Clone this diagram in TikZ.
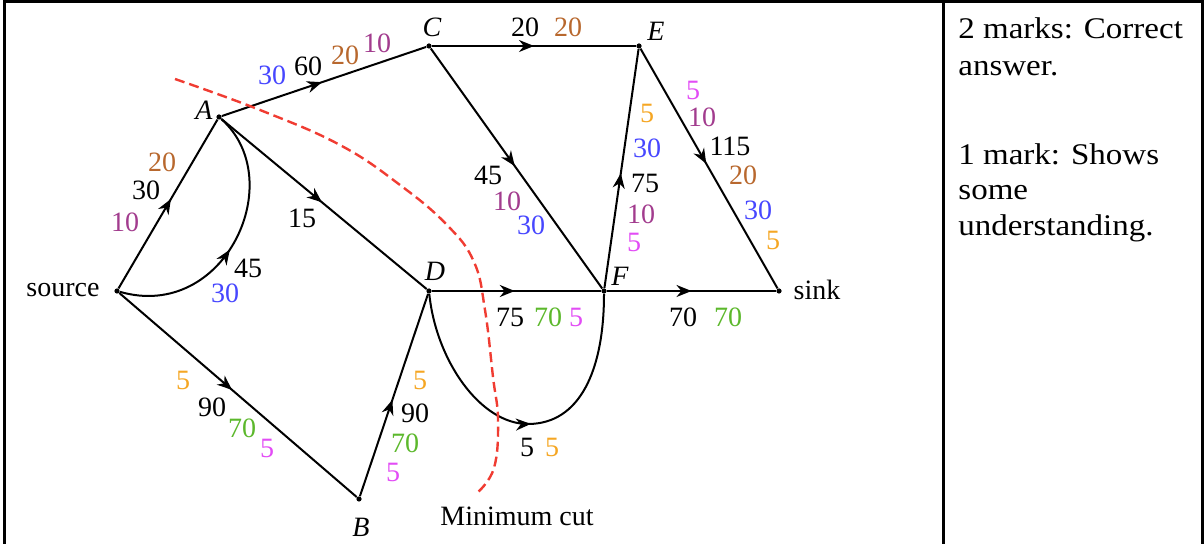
\documentclass[tikz,border=0pt]{standalone}
\usepackage{fontspec}
\setmainfont{Liberation Serif}
\newfontfamily\cellfont[FakeStretch=1.1]{Liberation Serif}
\usetikzlibrary{arrows.meta,decorations.markings}

\definecolor{fOrange}{HTML}{F5A623}
\definecolor{fBrown}{HTML}{B8682E}
\definecolor{fPurple}{HTML}{A23C8E}
\definecolor{fPink}{HTML}{E24CF5}
\definecolor{fBlue}{HTML}{4747FF}
\definecolor{fGreen}{HTML}{5CB82C}
\definecolor{fRed}{HTML}{F03C32}

\begin{document}
\begin{tikzpicture}[x=0.5pt,y=-0.5pt,
    vertex/.style={circle,fill=black,inner sep=0pt,minimum size=2.6pt},
    flow/.style={line width=1pt,postaction={decorate},
        decoration={markings,mark=at position #1 with {\arrow{Stealth[length=7.5pt,width=6pt]}}}},
    flow/.default=0.5,
    num/.style={inner sep=0pt,font=\fontsize{14}{16}\selectfont},
    vname/.style={inner sep=0pt,font=\fontsize{14}{16}\selectfont\itshape},
    cell/.style={inner sep=0pt,anchor=base west,font=\fontsize{15}{18}\cellfont}]
    \useasboundingbox (0,0) rectangle (1204,544);

    % table frame
    \draw[line width=1.5pt] (4,544) -- (4,2) -- (1202,2) -- (1202,544);
    \draw[line width=1.5pt] (943,2) -- (943,544);

    % vertices
    \node[vertex] (s) at (117,291) {};
    \node[vertex] (A) at (219,117) {};
    \node[vertex] (C) at (429,46) {};
    \node[vertex] (E) at (639,46) {};
    \node[vertex] (D) at (429,291) {};
    \node[vertex] (F) at (604,291) {};
    \node[vertex] (t) at (779,291) {};
    \node[vertex] (B) at (359,499) {};

    \node[vname] (sname) at (63,290) {\upshape source};
    \node[vname] (tname) at (817,290) {\upshape sink};
    \node[vname] (Aname) at (204,110) {A};
    \node[vname] (Cname) at (432,27) {C};
    \node[vname] (Ename) at (656,31) {E};
    \node[vname] (Dname) at (435,271) {D};
    \node[vname] (Fname) at (620,276) {F};
    \node[vname] (Bname) at (361,527) {B};

    % edges
    \draw[flow=0.53] (s) -- (A);
    \draw[flow=0.47] (s) .. controls (225,322) and (290,180) .. (A);
    \draw[flow=0.49] (A) -- (C);
    \draw[flow=0.49] (A) -- (D);
    \draw[flow=0.5] (C) -- (E);
    \draw[flow=0.49] (C) -- (F);
    \draw[flow=0.48] (F) -- (E);
    \draw[flow=0.48] (E) -- (t);
    \draw[flow=0.49] (D) -- (F);
    \draw[flow=0.5] (F) -- (t);
    \draw[flow=0.475] (s) -- (B);
    \draw[flow=0.476] (B) -- (D);
    \draw[flow=0.52] (D) .. controls (436,360) and (480,424) .. (528,424)
        .. controls (580,424) and (604,370) .. (F);

    % minimum cut
    \draw[fRed,line width=1.2pt,dash pattern=on 5pt off 2.5pt]
        plot[smooth,tension=0.7] coordinates {(175,79) (260,110) (340,145) (400,185)
        (447,225) (474,262) (485,310) (493,377) (498,420) (494,468) (477,493)};
    \node[num] (cutname) at (517,516) {Minimum cut};

    % flows source-A
    \node[num,fBrown] (sa1) at (162,162) {20};
    \node[num] (sa2) at (146,190) {30};
    \node[num,fPurple] (sa3) at (125,222) {10};
    \node[num] (sa4) at (248,268) {45};
    \node[num,fBlue] (sa5) at (225,293) {30};
    % flows A-C, A-D
    \node[num,fBlue] (ac1) at (272,75) {30};
    \node[num] (ac2) at (308,66) {60};
    \node[num,fBrown] (ac3) at (345,55) {20};
    \node[num,fPurple] (ac4) at (377,43) {10};
    \node[num] (ad1) at (302,218) {15};
    % flows C-E, C-F
    \node[num] (ce1) at (525,27) {20};
    \node[num,fBrown] (ce2) at (568,27) {20};
    \node[num] (cf1) at (488,175) {45};
    \node[num,fPurple] (cf2) at (507,201) {10};
    \node[num,fBlue] (cf3) at (531,225) {30};
    % flows F-E
    \node[num,fOrange] (fe1) at (647,113) {5};
    \node[num,fBlue] (fe2) at (647,148) {30};
    \node[num] (fe3) at (645,183) {75};
    \node[num,fPurple] (fe4) at (641,214) {10};
    \node[num,fPink] (fe5) at (634,242) {5};
    % flows E-sink
    \node[num,fPink] (et1) at (693,90) {5};
    \node[num,fPurple] (et2) at (702,117) {10};
    \node[num] (et3) at (730,146) {115};
    \node[num,fBrown] (et4) at (743,175) {20};
    \node[num,fBlue] (et5) at (758,210) {30};
    \node[num,fOrange] (et6) at (773,240) {5};
    % flows D-F, F-sink
    \node[num] (df1) at (510,317) {75};
    \node[num,fGreen] (df2) at (548,317) {70};
    \node[num,fPink] (df3) at (576,317) {5};
    \node[num] (ft1) at (683,317) {70};
    \node[num,fGreen] (ft2) at (728,317) {70};
    \node[num] (dl1) at (527,447) {5};
    \node[num,fOrange] (dl2) at (552,447) {5};
    % flows source-B, B-D
    \node[num,fOrange] (sb1) at (183,380) {5};
    \node[num] (sb2) at (212,407) {90};
    \node[num,fGreen] (sb3) at (242,428) {70};
    \node[num,fPink] (sb4) at (267,448) {5};
    \node[num,fOrange] (bd1) at (420,380) {5};
    \node[num] (bd2) at (415,413) {90};
    \node[num,fGreen] (bd3) at (405,443) {70};
    \node[num,fPink] (bd4) at (393,472) {5};

    % mark scheme
    \node[cell] (m1) at (958,39) {2 marks: Correct};
    \node[cell] (m2) at (958,76) {answer.};
    \node[cell] (m3) at (958,165) {1 mark: Shows};
    \node[cell] (m4) at (958,200) {some};
    \node[cell] (m5) at (958,236) {understanding.};
\end{tikzpicture}
\end{document}
